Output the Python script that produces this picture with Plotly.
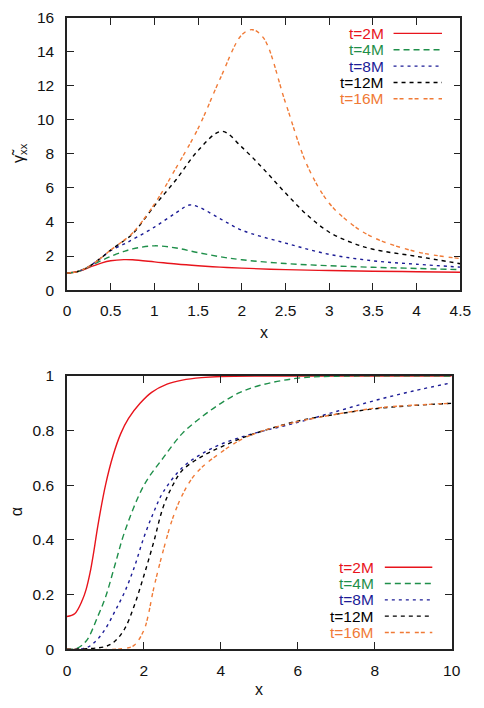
import plotly.graph_objects as go

# ---------------- data: top panel (gamma~_xx vs x) ----------------
labels = ["t=2M", "t=4M", "t=8M", "t=12M", "t=16M"]

g2_x = [0, 0.1, 0.2, 0.3, 0.4, 0.5, 0.65, 0.75, 1, 1.25, 1.5, 1.75, 2, 2.5, 3, 3.5, 4, 4.5]
g2_y = [1.0, 1.06, 1.22, 1.42, 1.6, 1.72, 1.79, 1.78, 1.66, 1.53, 1.43, 1.35, 1.29, 1.2, 1.15, 1.11, 1.08, 1.05]

g4_x = [0, 0.1, 0.2, 0.3, 0.4, 0.5, 0.65, 0.75, 1, 1.25, 1.5, 1.75, 2, 2.5, 3, 3.5, 4, 4.5]
g4_y = [1.0, 1.06, 1.24, 1.5, 1.75, 1.98, 2.27, 2.42, 2.6, 2.47, 2.2, 1.96, 1.78, 1.56, 1.43, 1.34, 1.27, 1.2]

g8_x = [0, 0.1, 0.2, 0.3, 0.4, 0.5, 0.65, 0.75, 1, 1.25, 1.4, 1.5, 1.75, 2, 2.5, 3, 3.5, 4, 4.5]
g8_y = [1.0, 1.06, 1.25, 1.55, 1.93, 2.33, 2.7, 2.97, 3.7, 4.55, 5.0, 4.9, 4.2, 3.52, 2.76, 2.1, 1.72, 1.52, 1.35]

g12_x = [0, 0.1, 0.2, 0.3, 0.4, 0.5, 0.65, 0.75, 1, 1.25, 1.5, 1.77, 2, 2.25, 2.5, 2.75, 3, 3.25, 3.5, 4, 4.5]
g12_y = [1.0, 1.06, 1.25, 1.55, 1.93, 2.35, 2.9, 3.3, 4.95, 6.5, 8.2, 9.33, 8.4, 7.1, 5.7, 4.4, 3.4, 2.8, 2.4, 1.98, 1.55]

g16_x = [0, 0.1, 0.2, 0.3, 0.4, 0.5, 0.65, 0.75, 1, 1.25, 1.5, 1.75, 2, 2.12, 2.25, 2.5, 2.75, 3, 3.25, 3.5, 4, 4.5]
g16_y = [1.0, 1.06, 1.25, 1.55, 1.93, 2.35, 2.92, 3.35, 5.05, 7.2, 9.5, 12.4, 15.0, 15.3, 14.8, 11.0, 7.3, 5.1, 3.9, 3.1, 2.25, 1.85]

# ---------------- data: bottom panel (alpha vs x) ----------------
a2_x = [0, 0.2, 0.4, 0.5, 0.6, 0.7, 0.8, 1, 1.2, 1.4, 1.6, 1.9, 2.2, 2.6, 3, 3.5, 4, 5, 10]
a2_y = [0.12, 0.13, 0.18, 0.22, 0.28, 0.36, 0.45, 0.6, 0.71, 0.79, 0.845, 0.9, 0.94, 0.97, 0.985, 0.994, 0.998, 1.0, 1.0]

a4_x = [0, 0.25, 0.5, 0.8, 1, 1.25, 1.5, 2, 2.5, 3, 3.5, 4, 4.5, 5, 6, 7, 10]
a4_y = [0.0, 0.003, 0.03, 0.12, 0.19, 0.31, 0.43, 0.6, 0.7, 0.79, 0.85, 0.9, 0.94, 0.965, 0.992, 0.999, 1.0]

a8_x = [0, 0.5, 0.75, 1, 1.25, 1.5, 1.75, 2, 2.25, 2.5, 3, 3.5, 4, 4.5, 5, 6, 7, 8, 9, 10]
a8_y = [0.0, 0.005, 0.03, 0.075, 0.14, 0.21, 0.3, 0.41, 0.5, 0.575, 0.665, 0.715, 0.75, 0.775, 0.795, 0.83, 0.87, 0.91, 0.945, 0.975]

a12_x = [0, 1, 1.25, 1.5, 1.75, 2, 2.25, 2.5, 2.75, 3, 3.5, 4, 4.5, 5, 6, 7, 8, 9, 10]
a12_y = [0.0, 0.01, 0.03, 0.075, 0.16, 0.27, 0.39, 0.52, 0.6, 0.655, 0.705, 0.74, 0.77, 0.795, 0.835, 0.86, 0.88, 0.892, 0.9]

a16_x = [0, 1.5, 1.75, 2, 2.1, 2.25, 2.5, 2.75, 3, 3.25, 3.5, 4, 4.5, 5, 6, 7, 8, 9, 10]
a16_y = [0.0, 0.003, 0.015, 0.07, 0.117, 0.22, 0.36, 0.48, 0.565, 0.625, 0.665, 0.72, 0.765, 0.795, 0.833, 0.86, 0.882, 0.893, 0.9]

# tick labels
top_xticks = [0, 0.5, 1, 1.5, 2, 2.5, 3, 3.5, 4, 4.5]
top_xtext = ["0", "0.5", "1", "1.5", "2", "2.5", "3", "3.5", "4", "4.5"]
top_yticks = [0, 2, 4, 6, 8, 10, 12, 14, 16]
bot_xticks = [0, 2, 4, 6, 8, 10]
bot_yticks = [0, 0.2, 0.4, 0.6, 0.8, 1]
bot_ytext = ["0", "0.2", "0.4", "0.6", "0.8", "1"]

# ---------------- styles ----------------
colors = ["#e8141c", "#1f8f4a", "#1c1c96", "#000000", "#f07a36"]
dashes = ["solid", "6px,4px", "3px,4px", "4px,4px", "4px,2px,4px,5px"]
FONT = "Liberation Sans, Arial, Helvetica, sans-serif"
W, H = 484, 708


def px(x):
    return x / W


def py(y):
    return 1 - y / H


fig = go.Figure()

top_series = [(g2_x, g2_y), (g4_x, g4_y), (g8_x, g8_y), (g12_x, g12_y), (g16_x, g16_y)]
bot_series = [(a2_x, a2_y), (a4_x, a4_y), (a8_x, a8_y), (a12_x, a12_y), (a16_x, a16_y)]

for i, (xs, ys) in enumerate(top_series):
    fig.add_trace(go.Scatter(x=xs, y=ys, mode="lines", name=labels[i],
                             line=dict(color=colors[i], width=1.4, dash=dashes[i],
                                       shape="spline", smoothing=1.0),
                             xaxis="x", yaxis="y", showlegend=False))
for i, (xs, ys) in enumerate(bot_series):
    fig.add_trace(go.Scatter(x=xs, y=ys, mode="lines", name=labels[i],
                             line=dict(color=colors[i], width=1.4, dash=dashes[i],
                                       shape="spline", smoothing=1.0),
                             xaxis="x2", yaxis="y2", showlegend=False))

axis_common = dict(showline=True, linecolor="#222222", linewidth=1.5, mirror="allticks",
                   ticks="inside", ticklen=7, tickwidth=1.3, tickcolor="#222222",
                   showgrid=False, zeroline=False,
                   tickfont=dict(family=FONT, size=15.5, color="#111111"))

fig.update_layout(
    width=W, height=H, autosize=False,
    margin=dict(l=0, r=0, t=0, b=0, pad=0),
    paper_bgcolor="white", plot_bgcolor="white",
    showlegend=False,
    xaxis=dict(domain=[px(65), px(471)], range=[0, 4.5], tickvals=top_xticks,
               ticktext=top_xtext, anchor="y", ticklabelstandoff=6, **axis_common),
    yaxis=dict(domain=[py(288), py(9)], range=[0, 16], tickvals=top_yticks,
               anchor="x", ticklabelstandoff=8, **axis_common),
    xaxis2=dict(domain=[px(65), px(462)], range=[0, 10], tickvals=bot_xticks,
                anchor="y2", ticklabelstandoff=6, **axis_common),
    yaxis2=dict(domain=[py(656), py(376)], range=[0, 1], tickvals=bot_yticks,
                ticktext=bot_ytext, anchor="x2", ticklabelstandoff=8, **axis_common),
)

annotations = []
shapes = []


def title_ann(x, y, text, angle=0):
    annotations.append(dict(x=px(x), y=py(y), xref="paper", yref="paper", text=text,
                            textangle=angle, xanchor="center", yanchor="middle",
                            showarrow=False, font=dict(family=FONT, size=16, color="#111")))


# axis titles
title_ann(268, 331, "x")
title_ann(263, 697, "x")
title_ann(16, 148, "γ̃<sub>xx</sub>", -90)
title_ann(13, 515, "α", -90)


# gnuplot-style legends (text right-aligned, sample line to the right)
def add_legend(text_right, line_x0, line_x1, rows):
    for i, yrow in enumerate(rows):
        annotations.append(dict(x=px(text_right), y=py(yrow), xref="paper", yref="paper",
                                text=labels[i], xanchor="right", yanchor="middle",
                                showarrow=False, borderpad=0,
                                font=dict(family=FONT, size=15.5, color=colors[i])))
        shapes.append(dict(type="line", xref="paper", yref="paper",
                           x0=px(line_x0), x1=px(line_x1), y0=py(yrow), y1=py(yrow),
                           line=dict(color=colors[i], width=1.4, dash=dashes[i])))


add_legend(393, 402, 452, [25, 41.75, 58.5, 75.25, 92])
add_legend(383, 393, 442, [572, 588.7, 605.4, 622.1, 638.8])

fig.update_layout(annotations=annotations, shapes=shapes)

fig.write_html("out.html")
